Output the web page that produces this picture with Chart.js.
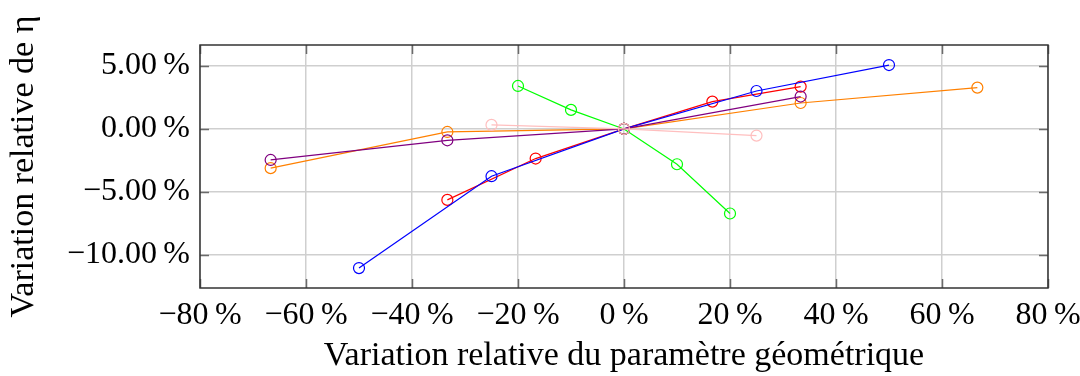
<!DOCTYPE html>
<html>
<head>
<meta charset="utf-8">
<script src="https://cdn.jsdelivr.net/npm/chart.js@4/dist/chart.umd.min.js"></script>
<style>
  html, body { margin: 0; padding: 0; background: #ffffff; }
  #wrap { width: 1080px; height: 376px; }
</style>
</head>
<body>
<div id="wrap"><canvas id="c" width="1080" height="376"></canvas></div>
<script>
// Relative variation of each geometric parameter (x, %) and resulting relative variation of eta (y, %)
const blueX   = [-50, -25, 0, 25, 50];
const blueY   = [-11.04, -3.75, 0, 3.01, 5.07];
const redX    = [-33.33, -16.67, 0, 16.67, 33.33];
const redY    = [-5.63, -2.35, 0, 2.17, 3.36];
const greenX  = [-20, -10, 0, 10, 20];
const greenY  = [3.41, 1.51, 0, -2.80, -6.71];
const orangeX = [-66.67, -33.33, 0, 33.33, 66.67];
const orangeY = [-3.11, -0.24, 0, 2.06, 3.28];
const purpleX = [-66.67, -33.33, 0, 33.33];
const purpleY = [-2.46, -0.90, 0, 2.57];
const pinkX   = [-25, 0, 25];
const pinkY   = [0.32, 0, -0.53];

// Axis ticks and ranges
const xTickValues = [-80, -60, -40, -20, 0, 20, 40, 60, 80];
const yTickValues = [-10, -5, 0, 5];
const xRange = [-80, 80];
const yRange = [-12.62, 6.66];

const xTitle = 'Variation relative du paramètre géométrique';
const yTitle = 'Variation relative de η';

const MINUS = '\u2212';
const THIN = '\u2009';
function fmtX(v) { return (v < 0 ? MINUS : '') + Math.abs(v) + THIN + '%'; }
function fmtY(v) { return (v < 0 ? MINUS : '') + Math.abs(v).toFixed(2) + THIN + '%'; }

function pts(xs, ys) { return xs.map((x, i) => ({ x: x, y: ys[i] })); }

function series(label, xs, ys, color, order) {
  return {
    label: label,
    data: pts(xs, ys),
    showLine: true,
    borderColor: color,
    borderWidth: 1.2,
    pointStyle: 'circle',
    pointRadius: 5.5,
    pointHoverRadius: 5.5,
    pointBorderWidth: 1.2,
    pointBorderColor: color,
    pointBackgroundColor: 'rgba(0,0,0,0)',
    fill: false,
    tension: 0,
    order: order
  };
}

const FONT = "'Liberation Serif', 'DejaVu Serif', serif";

// Frame around the plot area plus small inward tick marks on all four sides
const framePlugin = {
  id: 'frame',
  afterDatasetsDraw(chart) {
    const { ctx, chartArea: a, scales } = chart;
    ctx.save();
    ctx.strokeStyle = '#6a6a6a';
    ctx.lineWidth = 1.5;
    const len = 9;
    ctx.beginPath();
    scales.x.ticks.forEach(t => {
      const px = Math.round(scales.x.getPixelForValue(t.value)) + 0.5;
      ctx.moveTo(px, a.top); ctx.lineTo(px, a.top + len);
      ctx.moveTo(px, a.bottom); ctx.lineTo(px, a.bottom - len);
    });
    scales.y.ticks.forEach(t => {
      const py = Math.round(scales.y.getPixelForValue(t.value)) + 0.5;
      ctx.moveTo(a.left, py); ctx.lineTo(a.left + len, py);
      ctx.moveTo(a.right, py); ctx.lineTo(a.right - len, py);
    });
    ctx.stroke();
    ctx.strokeStyle = '#333333';
    ctx.lineWidth = 1.5;
    ctx.strokeRect(a.left, a.top, a.right - a.left, a.bottom - a.top);
    ctx.restore();
  }
};

new Chart(document.getElementById('c'), {
  type: 'scatter',
  data: {
    datasets: [
      series('s6', pinkX, pinkY, '#ffbfbf', 0),
      series('s5', purpleX, purpleY, '#800080', 1),
      series('s4', orangeX, orangeY, '#ff8000', 2),
      series('s3', greenX, greenY, '#00ff00', 3),
      series('s1', blueX, blueY, '#0000ff', 4),
      series('s2', redX, redY, '#ff0000', 5)
    ]
  },
  options: {
    responsive: false,
    animation: false,
    devicePixelRatio: 1,
    layout: { padding: { top: 45, right: 32, left: 0, bottom: 0 } },
    plugins: {
      legend: { display: false },
      tooltip: { enabled: false }
    },
    scales: {
      x: {
        type: 'linear',
        min: xRange[0],
        max: xRange[1],
        afterBuildTicks(scale) { scale.ticks = xTickValues.map(v => ({ value: v })); },
        afterFit(scale) { scale.height = 88; scale.paddingLeft = 0; scale.paddingRight = 0; },
        grid: { color: '#cfcfcf', lineWidth: 1.5, drawTicks: false },
        border: { display: false },
        ticks: {
          padding: 8,
          color: '#000',
          font: { family: FONT, size: 32 },
          maxRotation: 0,
          autoSkip: false,
          callback: v => fmtX(v)
        },
        title: {
          display: true,
          text: xTitle,
          color: '#000',
          font: { family: FONT, size: 34 },
          padding: { top: 0, bottom: 0 }
        }
      },
      y: {
        type: 'linear',
        min: yRange[0],
        max: yRange[1],
        afterBuildTicks(scale) { scale.ticks = yTickValues.map(v => ({ value: v })); },
        afterFit(scale) { scale.width = 200; scale.paddingTop = 0; scale.paddingBottom = 0; },
        grid: { color: '#cfcfcf', lineWidth: 1.5, drawTicks: false },
        border: { display: false },
        ticks: {
          padding: 10,
          color: '#000',
          font: { family: FONT, size: 32 },
          autoSkip: false,
          callback: v => fmtY(v)
        },
        title: {
          display: true,
          text: yTitle,
          color: '#000',
          font: { family: FONT, size: 34 },
          padding: { top: 4, bottom: 0 }
        }
      }
    }
  },
  plugins: [framePlugin]
});
</script>
</body>
</html>
